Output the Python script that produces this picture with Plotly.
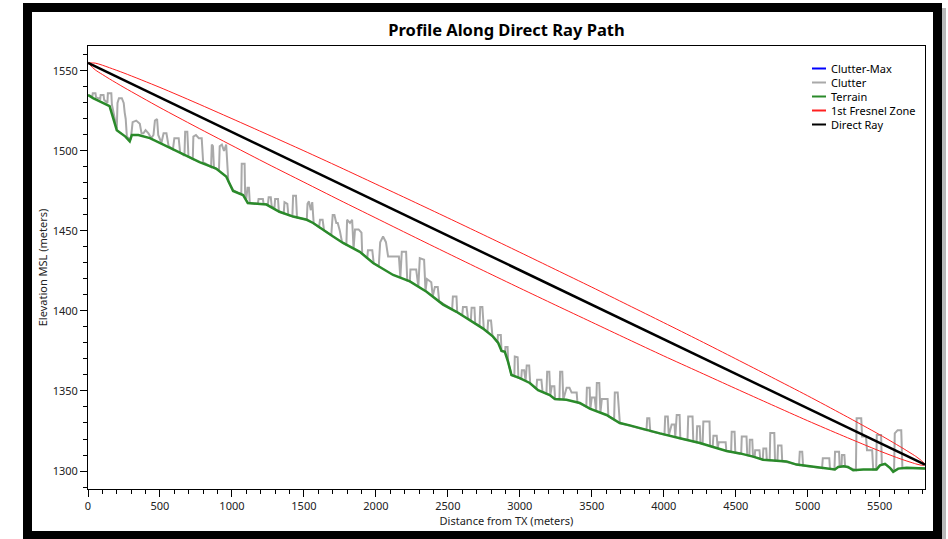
import plotly.graph_objects as go

# ---------------- data ----------------
terrain_dist = [0, 35, 150, 200, 260, 290, 305, 350, 430, 545, 640, 775, 890, 960, 1008, 1077, 1110,
                1240, 1330, 1425, 1520, 1564, 1703, 1772, 1888, 1981, 2120, 2236, 2352, 2398, 2467,
                2560, 2652, 2745, 2814, 2850, 2873, 2896, 2919, 2942, 3000, 3069, 3127, 3208, 3243,
                3324, 3417, 3486, 3602, 3694, 3764, 3880, 3973, 4112, 4251, 4343, 4436, 4529, 4621,
                4690, 4853, 4922, 5038, 5131, 5189, 5212, 5250, 5280, 5316, 5386, 5479, 5502, 5537,
                5571, 5594, 5629, 5687, 5815]
terrain_elev = [1535, 1533, 1528, 1513, 1509, 1506, 1510, 1510, 1508, 1503, 1498.5, 1493, 1489, 1484,
                1475, 1472.5, 1467.5, 1466.5, 1462, 1459, 1457, 1455, 1446.5, 1442.5, 1437, 1430,
                1422.5, 1418.5, 1412, 1409, 1404, 1399.5, 1394.5, 1389, 1384, 1380, 1375, 1374.5,
                1368, 1360, 1358, 1355, 1350.5, 1347.5, 1345, 1344.5, 1342.5, 1339, 1335, 1330,
                1328.5, 1325.5, 1323.5, 1320.5, 1317.5, 1315, 1312.5, 1311, 1309, 1307, 1306, 1304,
                1302.5, 1301.5, 1301, 1302.5, 1303, 1302.5, 1300.5, 1301, 1301, 1303.5, 1304.5, 1302,
                1299.5, 1301.5, 1302, 1301.5]

clutter_dist = [0, 30, 33, 52, 56, 85, 88, 108, 112, 135, 138, 162, 166, 200, 205, 215, 235, 248, 255,
                262, 270, 295, 303, 310, 335, 360, 372, 385, 400, 420, 440, 455, 465, 480, 488, 510,
                525, 545, 560, 590, 600, 630, 640, 670, 675, 690, 698, 728, 732, 750, 770, 790, 800,
                855, 860, 868, 875, 910, 915, 930, 945, 960, 975, 1008, 1040, 1065, 1068, 1088, 1092,
                1100, 1108, 1118, 1124,
                1130, 1180, 1185, 1215, 1220, 1250, 1255, 1270, 1276, 1295, 1300, 1320, 1326, 1360,
                1365, 1385, 1392, 1420, 1425, 1445, 1452, 1520, 1525, 1535, 1548, 1558, 1568,
                1580, 1605, 1612, 1630, 1640, 1690, 1700, 1712, 1725, 1735, 1750, 1765, 1795, 1800,
                1820, 1835, 1845, 1855, 1880, 1900, 1905, 1940, 1945, 1975, 1985, 2020, 2030, 2050,
                2070, 2085, 2120, 2160, 2170, 2180, 2210, 2218, 2236, 2240, 2280, 2295, 2305, 2335,
                2345, 2355, 2385, 2395, 2410, 2430, 2440, 2530, 2535, 2560, 2565, 2600, 2605, 2630,
                2640, 2660, 2665, 2685, 2690, 2720, 2725, 2740, 2750, 2775, 2780, 2800, 2810, 2845,
                2848, 2868, 2873, 2898, 2900, 2915, 2919, 2942, 2962, 2965, 2985, 2990,
                3010, 3014, 3030, 3040, 3048, 3065, 3072, 3115, 3120, 3150, 3158, 3185, 3190, 3205,
                3212, 3222, 3240, 3245, 3275, 3280, 3295, 3302, 3325, 3345, 3360, 3395, 3400, 3462,
                3466, 3485, 3490, 3500, 3520, 3530, 3535, 3552, 3560, 3570, 3610, 3615, 3655, 3660,
                3680, 3695, 3880, 3885, 3900, 3906, 4005, 4010, 4028, 4035, 4055, 4075, 4080, 4090,
                4110, 4115, 4165, 4170, 4200, 4205, 4228, 4232, 4250, 4255, 4270, 4275, 4318, 4322,
                4340, 4345, 4368, 4375,
                4382, 4430, 4435, 4468, 4472, 4492, 4497, 4538, 4542, 4575, 4580, 4595, 4598, 4615,
                4620, 4632, 4635, 4665, 4670, 4688, 4692, 4712, 4716, 4736, 4740, 4768, 4773, 4790,
                4794, 4818, 4823, 4940, 4945, 4962, 4968, 5100, 5105, 5150, 5155, 5186, 5190, 5218,
                5222, 5235, 5238, 5255, 5260, 5335, 5340, 5372, 5378, 5405, 5412, 5448, 5455, 5476,
                5480, 5510, 5515, 5545, 5560, 5600, 5605, 5625, 5650, 5658, 5725, 5815]
clutter_elev = [1535, 1534, 1536, 1536, 1533.5, 1532.5, 1535, 1535, 1532, 1530, 1536, 1536, 1529, 1514,
                1530, 1533, 1533, 1530, 1524, 1520, 1509, 1507, 1512, 1518, 1519, 1517, 1511, 1511,
                1513, 1511, 1508, 1510, 1519, 1520, 1510, 1505, 1511, 1511, 1503, 1501, 1508, 1508,
                1499, 1497, 1512, 1512, 1496.5, 1495, 1509, 1510, 1508, 1508, 1493, 1490, 1504, 1503,
                1489.5, 1488, 1503, 1504, 1500, 1504, 1481, 1475.5, 1474, 1473, 1492, 1492, 1471,
                1470, 1477, 1477, 1467.5,
                1467.4, 1467, 1470, 1470, 1467, 1466.6, 1471, 1471, 1465.6, 1463.8, 1470, 1470,
                1462.2, 1461, 1468, 1467, 1460, 1459.2, 1472, 1472, 1458.4, 1457, 1467, 1468.5,
                1463, 1468, 1454.8,
                1454, 1452.4, 1457, 1457, 1450.4, 1447.3, 1460, 1460, 1455, 1455, 1450, 1443,
                1441.3, 1457, 1455, 1457, 1439, 1451, 1451, 1449, 1436, 1433, 1438, 1438, 1429.8,
                1427.9, 1443, 1446.5, 1443, 1434, 1434, 1434, 1421, 1437, 1437, 1419.1, 1418.5,
                1426, 1426, 1415.2, 1433, 1432, 1412.4, 1420, 1418, 1409.2, 1415, 1415, 1406,
                1401, 1409, 1409, 1399.2, 1397.3, 1402.5, 1402.5, 1395.2, 1394.2, 1402, 1402,
                1392.3, 1390.5, 1402.5, 1402.5, 1388.6, 1386.8, 1394, 1394, 1384.3, 1380.6, 1385,
                1385, 1375, 1374.5, 1377.5, 1377.5, 1368, 1360, 1359.3, 1371.5, 1371, 1358.3,
                1357.6, 1363, 1363, 1356.3, 1366, 1366, 1354.9, 1351.4, 1357, 1357, 1349.4, 1348.3,
                1362, 1362, 1347.2, 1353, 1353, 1345, 1344.8, 1362, 1362, 1344.6, 1352, 1352, 1349,
                1349, 1342.9, 1340.2, 1352, 1352, 1338.9, 1346, 1346, 1337.5, 1355, 1355, 1336.5,
                1345, 1345, 1334.3, 1332.1, 1349, 1349, 1330, 1325.5, 1333, 1333, 1324.9, 1322.8,
                1334, 1334, 1322.2, 1329, 1329, 1321.2, 1335, 1335, 1320.4, 1319.4, 1334, 1334,
                1318.5, 1318, 1328, 1328, 1317.4, 1317, 1331, 1331, 1315.6, 1315.1, 1322, 1322,
                1314.1,
                1318, 1318, 1312.5, 1312, 1324.5, 1324.5, 1311.5, 1310.8, 1321.5, 1321.5, 1309.9,
                1309.6, 1319.5, 1319.5, 1309, 1308.7, 1313, 1313, 1307.6, 1307.1, 1314, 1314,
                1306.8, 1306.7, 1323.7, 1323.7, 1306.5, 1306.4, 1316, 1316, 1306.2, 1303.8, 1312,
                1312, 1303.4, 1301.8, 1308, 1308, 1301.4, 1301, 1312, 1312, 1302.6, 1302.8, 1310,
                1310, 1302.8, 1300.6, 1333, 1333, 1321.5, 1321.5, 1313, 1313, 1301, 1301, 1322.5,
                1322.5, 1304.2, 1304, 1302.8, 1299.8, 1323.5, 1325.5, 1325.5, 1301.8, 1301.9, 1301.5]

fresnel_dist = [0, 50, 100, 150, 250, 500, 750, 1000, 1250, 1500, 1750, 2000, 2250, 2500, 2750, 3000,
                3250, 3500, 3750, 4000, 4250, 4500, 4750, 5000, 5250, 5500, 5650, 5750, 5780, 5800,
                5815]
fresnel_upper = [1555.0, 1554.9, 1553.6, 1552.0, 1548.7, 1539.7, 1530.1, 1520.2, 1510.2, 1500.1,
                 1489.8, 1479.3, 1468.8, 1458.2, 1447.5, 1436.7, 1425.8, 1414.9, 1403.8, 1392.7,
                 1381.5, 1370.1, 1358.6, 1347.0, 1335.0, 1322.7, 1314.8, 1309.2, 1307.2, 1305.7,
                 1304.0]
fresnel_lower = [1555.0, 1550.7, 1547.8, 1545.0, 1539.7, 1527.1, 1515.1, 1503.4, 1491.8, 1480.5,
                 1469.2, 1458.1, 1447.0, 1436.0, 1425.1, 1414.3, 1403.6, 1393.0, 1382.4, 1371.9,
                 1361.7, 1351.5, 1341.4, 1331.4, 1321.8, 1312.5, 1307.4, 1304.5, 1303.8, 1303.5,
                 1304.0]

ray_dist = [0, 5815]
ray_elev = [1555, 1304]

x_tick_vals = [0, 500, 1000, 1500, 2000, 2500, 3000, 3500, 4000, 4500, 5000, 5500]
y_tick_vals = [1300, 1350, 1400, 1450, 1500, 1550]

legend_names = ["Clutter-Max", "Clutter", "Terrain", "1st Fresnel Zone", "Direct Ray"]
legend_colors = ["#0000ff", "#a9a9a9", "#2a8a2a", "#ff2020", "#000000"]

# ---------------- figure ----------------
W, H = 948, 539
L, R, T, B = 88, 925, 46, 489
FONT = "Noto Sans"


def px(x):
    return (x - L) / (R - L)


def py(y):
    return (B - y) / (B - T)


fig = go.Figure()
fig.add_trace(go.Scatter(x=clutter_dist, y=clutter_elev, mode="lines", name="Clutter",
                         line=dict(color="#a9a9a9", width=2), showlegend=False))
fig.add_trace(go.Scatter(x=terrain_dist, y=terrain_elev, mode="lines", name="Terrain",
                         line=dict(color="#2a8a2a", width=2.5), showlegend=False))
fig.add_trace(go.Scatter(x=fresnel_dist, y=fresnel_upper, mode="lines", name="1st Fresnel Zone",
                         line=dict(color="#ff2020", width=1, shape="spline", smoothing=0.8),
                         showlegend=False))
fig.add_trace(go.Scatter(x=fresnel_dist, y=fresnel_lower, mode="lines", name="1st Fresnel Zone",
                         line=dict(color="#ff2020", width=1, shape="spline", smoothing=0.8),
                         showlegend=False))
fig.add_trace(go.Scatter(x=ray_dist, y=ray_elev, mode="lines", name="Direct Ray",
                         line=dict(color="#000000", width=2.5), showlegend=False))

shapes = []
# outer black frame with shadow
shapes.append(dict(type="rect", xref="paper", yref="paper", x0=px(941), x1=px(946), y0=py(539),
                   y1=py(8), fillcolor="#b8b8b8", line=dict(width=0), layer="below"))
shapes.append(dict(type="rect", xref="paper", yref="paper", x0=px(23), x1=px(942), y0=py(545),
                   y1=py(3), fillcolor="#000000", line=dict(width=0), layer="below"))
shapes.append(dict(type="rect", xref="paper", yref="paper", x0=px(32), x1=px(933), y0=py(531),
                   y1=py(12), fillcolor="#ffffff", line=dict(width=0), layer="below"))

annotations = []
row_y = [68.5, 82.5, 96.5, 110.5, 124.5]
for name, color, yy in zip(legend_names, legend_colors, row_y):
    shapes.append(dict(type="line", xref="paper", yref="paper", x0=px(812), x1=px(826),
                       y0=py(yy), y1=py(yy), line=dict(color=color, width=2), layer="above"))
    annotations.append(dict(xref="paper", yref="paper", x=px(829), y=py(yy), text=name,
                            showarrow=False, xanchor="left", yanchor="middle",
                            font=dict(family=FONT, size=11, color="#000000")))

fig.update_layout(
    width=W, height=H,
    margin=dict(l=L, r=W - R, t=T, b=H - B, pad=0),
    paper_bgcolor="#ffffff", plot_bgcolor="#ffffff",
    showlegend=False,
    title=dict(text="Profile Along Direct Ray Path", x=0.5, xref="paper", xanchor="center",
               y=1 - 30 / H, yref="container", yanchor="middle",
               font=dict(family=FONT, size=16.5, color="#000000", weight="bold")),
    font=dict(family=FONT, size=11, color="#222222"),
    shapes=shapes, annotations=annotations,
)
fig.update_xaxes(range=[0, 5815], tickmode="array", tickvals=x_tick_vals,
                 ticks="outside", ticklen=7, tickwidth=1, tickcolor="#000000",
                 showline=True, linecolor="#000000", linewidth=1, mirror=True,
                 showgrid=False, zeroline=False,
                 tickfont=dict(family=FONT, size=11, color="#222222"),
                 minor=dict(dtick=100, tick0=0, ticks="outside", ticklen=4, tickcolor="#000000",
                            showgrid=False),
                 title=dict(text="Distance from TX (meters)", standoff=3,
                            font=dict(family=FONT, size=11, color="#222222")))
fig.update_yaxes(range=[1288.75, 1565.6], tickmode="array", tickvals=y_tick_vals,
                 ticks="outside", ticklen=7, tickwidth=1, tickcolor="#000000",
                 showline=True, linecolor="#000000", linewidth=1, mirror=True,
                 showgrid=False, zeroline=False,
                 tickfont=dict(family=FONT, size=11, color="#222222"),
                 minor=dict(dtick=10, tick0=1300, ticks="outside", ticklen=4, tickcolor="#000000",
                            showgrid=False),
                 title=dict(text="Elevation MSL (meters)", standoff=2,
                            font=dict(family=FONT, size=11, color="#222222")))

fig.write_html("out.html")
